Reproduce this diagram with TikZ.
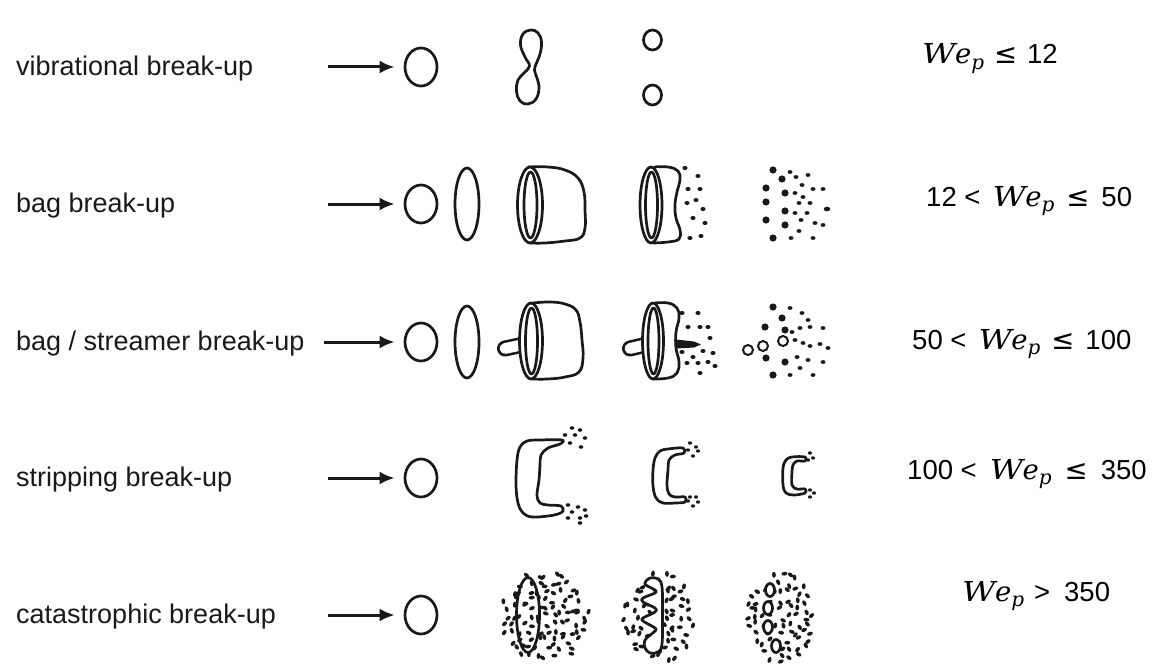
\documentclass[tikz,border=0pt]{standalone}
\usepackage{graphicx}
\usepackage{fontspec}
\setmainfont{Liberation Sans}
\newfontfamily\wefamily{DejaVu Serif}
\newfontfamily\relfamily{DejaVu Sans}
\usetikzlibrary{arrows.meta,shapes.geometric}

\newcommand{\We}{{\wefamily\itshape \scalebox{1.18}[1]{W}\kern-0.5pt e\raisebox{-5.5pt}{\fontsize{20}{22}\selectfont p}}}
\newcommand{\LE}{{\relfamily ≤}}

\tikzset{
  ink/.style={line width=2.7pt, draw=black!90, line join=round},
  thinink/.style={line width=2pt, draw=black!90},
  drop/.style={ellipse, ink, minimum width=32pt, minimum height=38pt, inner sep=0pt},
  flow/.style={line width=3pt, draw=black!90, -{Latex[length=15pt,width=13pt]}, shorten >=9pt},
  lbl/.style={font=\fontsize{27}{32}\selectfont, text=black!90, inner sep=0pt, anchor=base west},
  crit/.style={font=\fontsize{27.5}{32}\selectfont, text=black, inner sep=0pt, anchor=base west},
}

% jittered spray of droplets: cx, cy, half-w, half-h, step, nx, ny, seed
\newcommand{\dropspray}[8]{%
  \pgfmathsetseed{#8}%
  \foreach \gx in {-#6,...,#6}{%
    \foreach \gy in {-#7,...,#7}{%
      \pgfmathsetmacro{\px}{#1+\gx*#5+(rnd-0.5)*#5*0.9}%
      \pgfmathsetmacro{\py}{#2+\gy*#5+(rnd-0.5)*#5*0.9}%
      \pgfmathsetmacro{\rot}{180*rnd}%
      \pgfmathtruncatemacro{\inside}{((\px-#1)*(\px-#1)/(#3*#3)+(\py-#2)*(\py-#2)/(#4*#4))<1 ? 1 : 0}%
      \ifnum\inside=1
        \fill[black!90, rotate around={\rot:(\px,\py)}] (\px,\py) ellipse (3pt and 1.9pt);
      \fi
    }%
  }%
}

\begin{document}
\begin{tikzpicture}[x=1pt,y=-1pt]
\useasboundingbox (0,0) rectangle (1158,666);

% ---------------- labels left
\node[lbl] (l1) at (16,76) {vibrational break-up};
\node[lbl] (l2) at (16,212) {bag break-up};
\node[lbl] (l3) at (16,350) {bag / streamer break-up};
\node[lbl] (l4) at (16,486) {stripping break-up};
\node[lbl] (l5) at (16,623) {catastrophic break-up};

% ---------------- initial drops and arrows
\node[drop] (d1) at (421,67) {};
\node[drop] (d2) at (421,204) {};
\node[drop] (d3) at (421,342) {};
\node[drop] (d4) at (421,478) {};
\node[drop] (d5) at (421,615) {};
\coordinate (s1) at (328,67);
\coordinate (s2) at (328,204);
\coordinate (s3) at (324,342);
\coordinate (s4) at (328,478);
\coordinate (s5) at (328,615);
\draw[flow] (s1) -- (d1.west);
\draw[flow] (s2) -- (d2.west);
\draw[flow] (s3) -- (d3.west);
\draw[flow] (s4) -- (d4.west);
\draw[flow] (s5) -- (d5.west);

% ---------------- criteria right
\node[crit] (c1) at (922,64) {\We\hspace{10pt}\LE\hspace{10pt}12};
\node[crit] (c2) at (926,206) {12 <\hspace{12pt}\We\hspace{12pt}\LE\hspace{12pt}50};
\node[crit] (c3) at (912,349) {50 <\hspace{12pt}\We\hspace{11pt}\LE\hspace{11pt}100};
\node[crit] (c4) at (907,479) {100 <\hspace{13pt}\We\hspace{13pt}\LE\hspace{13pt}350};
\node[crit] (c5) at (962,601) {\We\hspace{10pt}>\hspace{14pt}350};

% ================= row 1 : vibrational
\draw[ink] plot[smooth cycle, tension=0.7] coordinates {
  (531,30) (538,33) (541.5,42) (540,54) (536.5,63) (534.5,70) (537,78) (539,88)
  (536,99) (528,104) (520,101) (516.5,91) (518,80) (524,73) (529.5,66) (525,57)
  (520.5,45) (523,34)};
\draw[ink] (652.5,40) ellipse (9pt and 10pt);
\draw[ink] (652.5,95) ellipse (9pt and 10pt);

% ================= row 2 : bag
\draw[ink] (467,204) ellipse (12pt and 36pt);
% bag
\draw[ink] plot[smooth, tension=0.7] coordinates {(528,167) (548,167) (565,170) (578,178)
  (584,192) (585,210) (585,228) (580,238) (565,241) (545,243) (530,243)};
\draw[ink, fill=white] (530,205) ellipse (12.5pt and 38pt);
\draw[ink] (530.5,205) ellipse (6.5pt and 33pt);
% bursting bag
\draw[ink] plot[smooth, tension=0.7] coordinates {(654,167) (668,167) (678,171) (680,180)
  (677,192) (675,205) (676,218) (680,230) (679,239) (668,242) (653,243)};
\draw[ink, fill=white] (651,205) ellipse (11pt and 38pt);
\draw[ink] (651.5,205) ellipse (6pt and 33pt);
\foreach \p in {(685,168),(698,176),(688,189),(700,189),(687,203),(696,200),(703,209),
  (693,218),(705,223),(690,238),(701,236)}
  \fill[black!90] \p ellipse (2.6pt and 2pt);
% fragments
\foreach \p in {(773,170),(782,179),(766,188),(785,193),(766,202),(785,211),(766,220),
  (785,225),(773,238)}
  \fill[black!90] \p circle (3.6pt);
\foreach \p in {(790,172),(796,177),(808,175),(802,185),(813,189),(823,189),(795,193),
  (803,197),(810,203),(799,203),(795,213),(807,213),(801,220),(815,223),(823,225),
  (799,231),(791,238),(813,238)}
  \fill[black!90] \p ellipse (2.5pt and 1.9pt);
\fill[black!90] (827,209) ellipse (3.3pt and 2.3pt);

% ================= row 3 : bag / streamer
\draw[ink] (467,342) ellipse (12pt and 36pt);
% bag with streamer
\draw[line width=16pt, black!90, line cap=round] (505,348.5) -- (526,344);
\draw[line width=10.8pt, white, line cap=round] (505,348.5) -- (526,344);
\draw[ink] plot[smooth, tension=0.7] coordinates {(533,303) (550,302) (565,304) (576,310)
  (580,322) (582,340) (583,358) (579,372) (565,377) (548,379) (532,379)};
\draw[ink, fill=white] (531,341) ellipse (11.5pt and 38pt);
\draw[ink] (531.5,341) ellipse (6pt and 33pt);
% bursting bag with streamer
\draw[line width=16pt, black!90, line cap=round] (630,348.5) -- (649,344);
\draw[line width=10.8pt, white, line cap=round] (630,348.5) -- (649,344);
\draw[ink] plot[smooth, tension=0.7] coordinates {(655,303) (668,303) (677,308) (679,318)
  (676,332) (676,348) (679,362) (677,373) (668,378) (653,379)};
\draw[ink, fill=white] (653,341) ellipse (10.5pt and 38pt);
\draw[ink] (653.5,341) ellipse (5.5pt and 33pt);
\fill[black!90] (676,339.5) -- (694,341.5) -- (701,344.5) -- (694,347.5) -- (676,348.5) -- cycle;
\foreach \p in {(682,313),(698,313),(688,327),(700,327),(708,327),(682,352),(710,338),
  (703,351),(713,353),(693,357),(687,363),(698,363),(708,362),(715,366),(700,373)}
  \fill[black!90] \p ellipse (2.6pt and 2pt);
% fragments
\draw[thinink] (748,350) circle (5pt);
\draw[thinink] (763,346) circle (5pt);
\draw[thinink] (783,341) circle (5pt);
\foreach \p in {(773,307),(782,318),(765,327),(785,330),(766,358),(785,362),(773,375)}
  \fill[black!90] \p circle (3.6pt);
\foreach \p in {(790,308),(802,313),(808,320),(792,332),(800,328),(810,327),(823,328),
  (795,340),(803,343),(810,346),(820,344),(828,348),(797,357),(808,360),(823,362),
  (800,368),(790,375),(813,375)}
  \fill[black!90] \p ellipse (2.5pt and 1.9pt);

% ================= row 4 : stripping
\draw[ink] plot[smooth cycle, tension=0.6] coordinates {
  (562,440) (540,440) (527,441) (520,447) (517,460) (516,485) (518,503) (523,513)
  (532,517) (548,516) (558,514) (563,511) (561,506) (548,505) (540,503) (537,495)
  (539,480) (540,465) (541,455) (548,448) (560,444)};
\foreach \p in {(572,428),(580,430),(565,435),(575,435),(585,438),(570,443),(581,447),
  (568,505),(578,507),(572,512),(585,510),(568,518),(580,518),(586,516),(580,523)}
  \fill[black!90] \p ellipse (2.3pt and 1.8pt);
\draw[ink] plot[smooth cycle, tension=0.6] coordinates {
  (683,448) (668,449) (660,451) (655,458) (653,470) (653,486) (656,498) (663,503)
  (675,503) (685,502) (685,497) (675,497) (669,494) (667,485) (668,470) (669,460)
  (675,455) (684,453)};
\foreach \p in {(690,443),(696,447),(688,450),(698,451),(693,456),
  (690,497),(696,497),(688,501),(698,502),(693,506)}
  \fill[black!90] \p ellipse (2.1pt and 1.7pt);
\draw[ink] plot[smooth cycle, tension=0.6] coordinates {
  (805,457) (792,457) (786,460) (783,468) (783,485) (786,493) (794,495) (805,493)
  (805,489) (797,489) (792,485) (792,472) (793,465) (797,461) (805,461)};
\foreach \p in {(810,453),(813,458),(808,460),(810,490),(814,493),(810,497)}
  \fill[black!90] \p ellipse (2.1pt and 1.7pt);

% ================= row 5 : catastrophic
\dropspray{546}{616}{45}{46}{8}{6}{6}{11}
\draw[ink] (528,615) ellipse (11.5pt and 37.5pt);
\dropspray{659}{617}{36}{46}{8}{5}{6}{23}
\draw[ink, fill=white] plot[smooth cycle, tension=0.6] coordinates {
  (650,578) (658,579) (662,587) (662.5,615) (662,644) (658,652) (650,653) (645,648)
  (645,640) (655,631) (655,628) (643,621) (643,618) (655,612) (655,608) (643,602)
  (643,598) (655,593) (655,590) (645,584)};
\dropspray{781}{617}{34}{46}{8}{5}{6}{37}
\draw[ink, fill=white] (770,590) ellipse (4.5pt and 6.5pt);
\draw[ink, fill=white] (768,608) ellipse (4.5pt and 6.5pt);
\draw[ink, fill=white] (768,627) ellipse (4.5pt and 6.5pt);
\draw[ink, fill=white] (776,646) ellipse (4.5pt and 6.5pt);
\end{tikzpicture}
\end{document}
